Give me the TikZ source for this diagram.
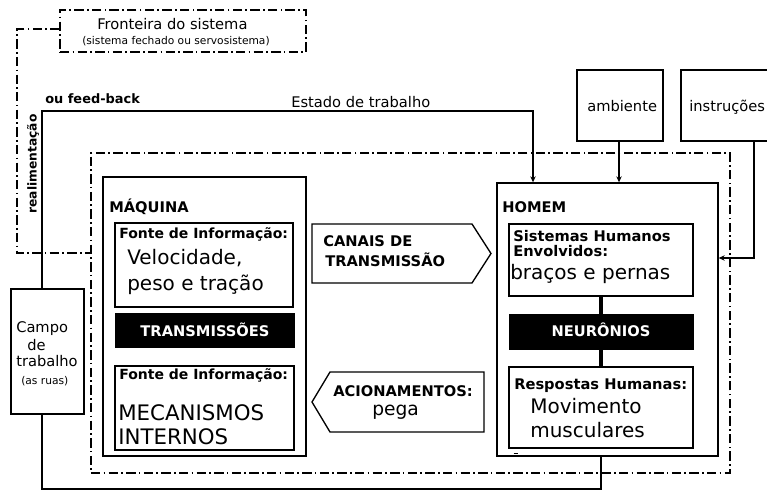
\documentclass[tikz,border=0pt]{standalone}
\usepackage{fontspec}
\setmainfont{DejaVu Sans}
\usetikzlibrary{fit,arrows.meta}
\newcommand\myfs[1]{\fontsize{#1}{#1}\selectfont}
\begin{document}
\begin{tikzpicture}[x=0.75pt,y=-0.75pt,
  box/.style={draw, line width=1pt, inner sep=0pt},
  blk/.style={draw=black, fill=black, inner sep=0pt},
  bdline/.style={line width=0.8pt, dash pattern=on 7pt off 2.5pt on 1.2pt off 2.5pt},
  bdbox/.style={bdline, draw, inner sep=0pt},
  lbl/.style={inner sep=0pt, anchor=base west},
  reg/.style={font=\myfs{11}},
  big/.style={font=\myfs{15}},
  bigger/.style={font=\myfs{16}},
  bl/.style={font=\bfseries\myfs{10.5}},
  blx/.style={font=\bfseries\myfs{11}},
  conn/.style={line width=0.8pt},
  arr/.style={conn, -{Stealth[length=4.5pt,width=4pt]}},
  thickconn/.style={line width=2.4pt}]
\useasboundingbox (0,0) rectangle (767,491);

% ---------- boundary ----------
\node[bdbox, fit={(60,10) (306,52)}] (front) {};
\node[lbl, reg] (tfront) at (97,30) {Fronteira do sistema};
\node[lbl, font=\myfs{8}] (tfront2) at (82,45) {(sistema fechado ou servosistema)};
\node[bdbox, fit={(91,153) (730,473)}] (sysb) {};
\coordinate (b1) at (17,29);
\coordinate (b2) at (17,253);
\draw[bdline] (front.west |- b1) -- (b1) -- (b2) -- (b2 -| sysb.west);

% ---------- machine ----------
\node[box, fit={(103,177) (306,456)}] (maq) {};
\node[lbl, font=\bfseries\myfs{11}] (tmaq) at (109,213) {MÁQUINA};
\node[box, fit={(115,223) (293,307)}] (fonte1) {};
\node[lbl, bl] (tf1) at (119,239) {Fonte de Informação:};
\node[lbl, big] (tvel) at (127,265) {Velocidade,};
\node[lbl, big] (tpeso) at (127,290.5) {peso e tração};
\node[blk, fit={(115,313) (294,347)}] (trans) {};
\node[lbl, blx, anchor=base, text=white] (ttrans) at (205,337) {TRANSMISSÕES};
\node[box, fit={(115,366) (294,450)}] (fonte2) {};
\node[lbl, bl] (tf2) at (119,379) {Fonte de Informação:};
\node[lbl, bigger] (tmec) at (118,420) {MECANISMOS};
\node[lbl, bigger] (tint) at (118,444) {INTERNOS};

% ---------- channels ----------
\draw[box] (312,224) -- (472,224) -- (491,253.5) -- (472,283) -- (312,283) -- cycle;
\node[lbl, blx] (tcan1) at (323,247) {CANAIS DE};
\node[lbl, blx] (tcan2) at (325,267) {TRANSMISSÃO};
\draw[box] (330,372) -- (484,372) -- (484,432) -- (330,432) -- (312,402) -- cycle;
\node[lbl, blx] (tacio) at (333,397) {ACIONAMENTOS:};
\node[lbl, font=\myfs{14}] (tpega) at (372,415) {pega};

% ---------- man ----------
\node[box, fit={(497,183) (718,456)}] (homem) {};
\node[lbl, blx] (thomem) at (502,213) {HOMEM};
\node[box, fit={(509,224) (693,296)}] (sist) {};
\node[lbl, blx] (ts1) at (513,242) {Sistemas Humanos};
\node[lbl, blx] (ts2) at (513,257) {Envolvidos:};
\node[lbl, big] (ts3) at (510,280) {braços e pernas};
\node[blk, fit={(509,314) (693,349)}] (neur) {};
\node[lbl, blx, anchor=base, text=white] (tneur) at (601,337) {NEURÔNIOS};
\node[box, fit={(509,367) (693,448)}] (resp) {};
\node[lbl, blx] (tr1) at (514,389) {Respostas Humanas:};
\node[lbl, big] (tr2) at (530,413) {Movimento};
\node[lbl, big] (tr3) at (530,437) {musculares};
\draw[thickconn] (sist.south) -- (neur.north);
\draw[thickconn] (neur.south) -- (resp.north);
\draw[line width=0.6pt] (513.5,453) -- (518,453);

% ---------- inputs ----------
\node[box, fit={(577,70) (663,141)}] (amb) {};
\node[lbl, reg] (tamb) at (587,112) {ambiente};
\node[box, fit={(681,70) (772,141)}] (instr) {};
\node[lbl, reg] (tinstr) at (689,112) {instruções};
\coordinate (ax) at (619,0);
\draw[arr] (amb.south -| ax) -- (homem.north -| ax);
\coordinate (ib) at (754,258);
\draw[arr] (instr.south -| ib) -- (ib) -- (homem.east |- ib);

% ---------- work field / feedback ----------
\node[box, fit={(11,289) (84,414)}] (campo) {};
\node[lbl, reg] (tc1) at (16,333) {Campo};
\node[lbl, reg] (tc2) at (27,350) {de};
\node[lbl, reg] (tc3) at (16,367) {trabalho};
\node[lbl, font=\myfs{8}] (tc4) at (21,384) {(as ruas)};
\coordinate (ctop) at (42,111);
\coordinate (htop) at (533,111);
\draw[arr] (campo.north -| ctop) -- (ctop) -- (htop) -- (homem.north -| htop);
\coordinate (hb) at (601,489);
\draw[conn] (homem.south -| hb) -- (hb) -- (hb -| ctop) -- (campo.south -| ctop);
\node[lbl, reg] (test) at (291,107.5) {Estado de trabalho};
\node[lbl, font=\bfseries\myfs{9.7}] (tfb) at (45,104) {ou feed-back};
\node[inner sep=0pt, font=\bfseries\myfs{9.2}, rotate=90] (treal) at (33,164) {realimentação};
\end{tikzpicture}
\end{document}
